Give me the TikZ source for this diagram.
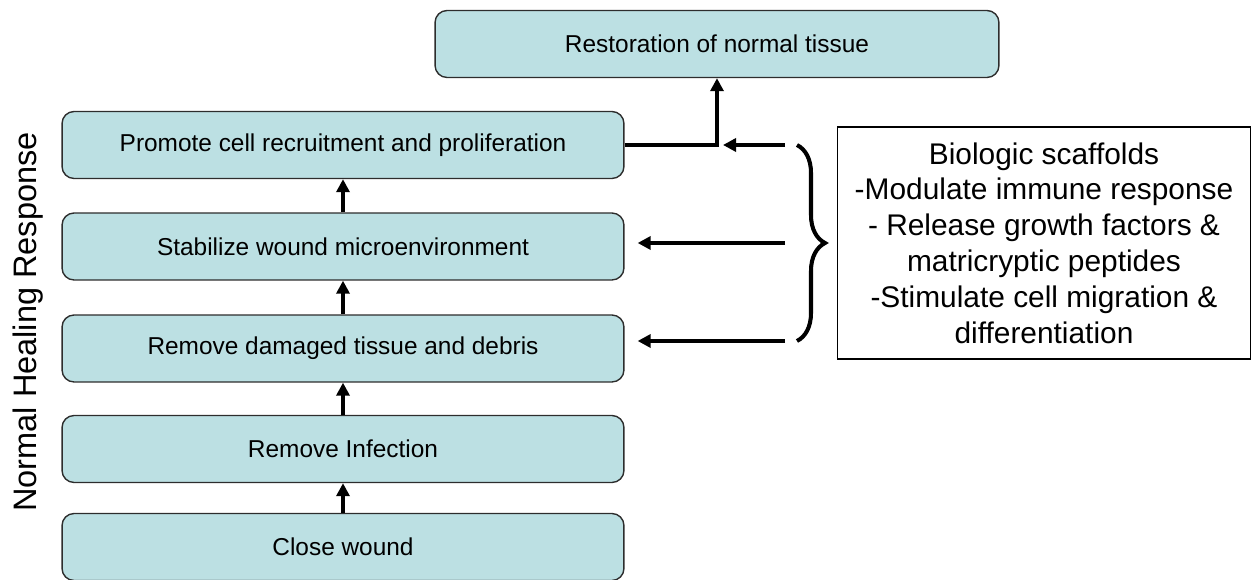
\documentclass[tikz,border=0pt]{standalone}
\usepackage{fontspec}
\setmainfont{Liberation Sans}
\usetikzlibrary{arrows.meta}
\usetikzlibrary{decorations.pathreplacing}

\definecolor{stagefill}{RGB}{188,224,227}
\definecolor{stageline}{RGB}{45,45,45}

\tikzset{
  stage/.style={draw=stageline, line width=0.8pt, fill=stagefill, rounded corners=0.24cm,
    minimum width=11.24cm, minimum height=1.34cm, font=\fontsize{13.9}{16}\selectfont},
  flow/.style={line width=2.3pt, -{Triangle[length=0.26cm,width=0.26cm]}},
}

\begin{document}
\begin{tikzpicture}[x=0.02cm,y=-0.02cm]
            \useasboundingbox (0,0) rectangle (1252,580);
            \node[stage] (close) at (343,547) {Close wound};
            \node[stage] (infect) at (343,449) {Remove Infection};
            \node[stage] (debris) at (343,348.5) {Remove damaged tissue and debris};
            \node[stage] (stab) at (343,246.5) {Stabilize wound microenvironment};
            \node[stage] (promote) at (343,145) {Promote cell recruitment and proliferation};
            \node[stage, minimum width=11.28cm] (resto) at (717,44) {Restoration of normal tissue};
            \node[rotate=90, font=\fontsize{18.5}{22}\selectfont] (side) at (28,322) {Normal Healing Response};
            \node[draw=black, line width=0.8pt, minimum width=8.26cm, minimum height=4.64cm,
              align=center, font=\fontsize{17}{20.4}\selectfont] (scaf) at (1044,243)
              {Biologic scaffolds\\-Modulate immune response\\- Release growth factors \&\\matricryptic peptides\\-Stimulate cell migration \&\\differentiation};
            \draw[flow] (close.north) -- (infect.south);
            \draw[flow] (infect.north) -- (debris.south);
            \draw[flow] (debris.north) -- (stab.south);
            \draw[flow] (stab.north) -- (promote.south);
            \draw[flow] (promote.east) -| (resto.south);
            % brace and feeds from the scaffold box
            \coordinate (junc) at (resto.south |- promote.east);
            \coordinate (btop) at (797,145);
            \coordinate (bbot) at (797,341);
            \coordinate (src1) at (785,145);
            \coordinate (src2) at (785,243);
            \coordinate (src3) at (785,341);
            \draw[line width=2.3pt, decorate, decoration={brace,amplitude=0.56cm}] (btop) -- (bbot);
            \draw[flow, shorten >=0.12cm] (src1) -- (junc);
            \draw[flow, shorten >=0.26cm] (src2) -- (src2 -| stab.east);
            \draw[flow, shorten >=0.26cm] (src3) -- (src3 -| debris.east);
        \end{tikzpicture}
\end{document}
